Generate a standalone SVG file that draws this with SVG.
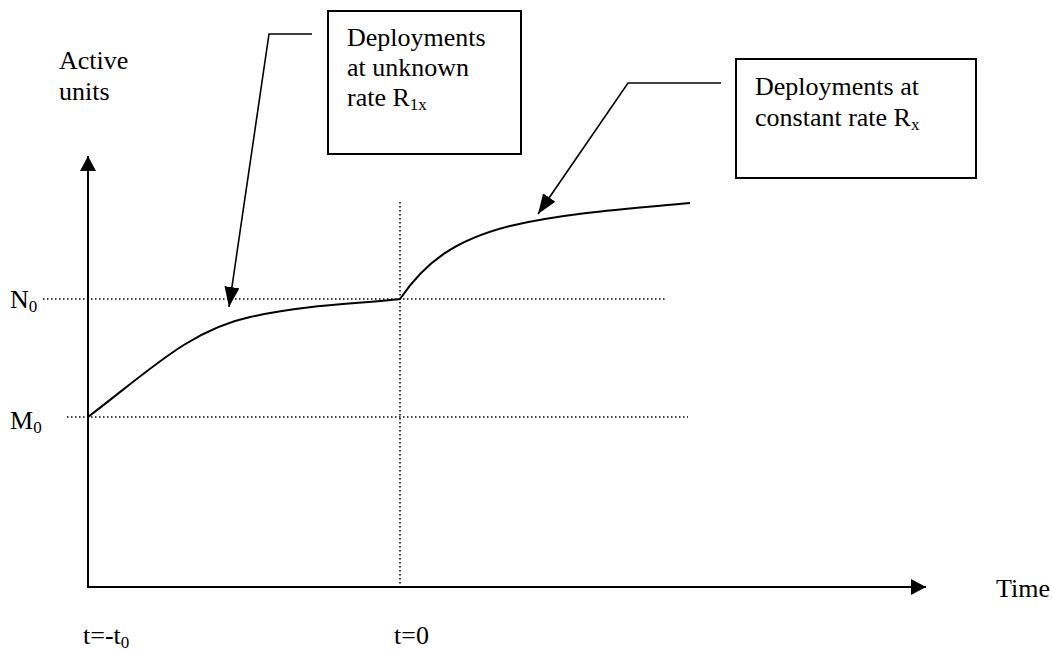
<svg xmlns="http://www.w3.org/2000/svg" width="1052" height="653" viewBox="0 0 1052 653">
<style>
  text { font-family: "Liberation Serif", "Times New Roman", serif; font-size: 26px; fill: #000; }
  .sub { font-size: 17px; }
  .axis { stroke: #000; stroke-width: 2; fill: none; }
  .dot { stroke: #000; stroke-width: 1.5; stroke-dasharray: 1.5 2.5; fill: none; }
  .curve { stroke: #000; stroke-width: 2; fill: none; }
  .box { stroke: #000; stroke-width: 2; fill: #fff; }
  .lead { stroke: #000; stroke-width: 1.6; fill: none; }
</style>
<defs>
  <marker id="axhead" markerUnits="userSpaceOnUse" markerWidth="16" markerHeight="16" refX="15" refY="8" orient="auto">
    <path d="M0,0 L15,8 L0,16 Z" fill="#000"/>
  </marker>
  <marker id="callhead" markerUnits="userSpaceOnUse" markerWidth="22" markerHeight="16" refX="20" refY="7.5" orient="auto">
    <path d="M0,0 L20,7.5 L0,15 Z" fill="#000"/>
  </marker>
</defs>
<rect width="1052" height="653" fill="#fff"/>

<g id="guides">
  <line class="dot" x1="43" y1="299" x2="665" y2="299"/>
  <line class="dot" x1="67" y1="417" x2="688" y2="417"/>
  <line class="dot" x1="400" y1="202" x2="400" y2="586"/>
</g>

<g id="axes">
  <path class="axis" d="M88,587 L88,156" marker-end="url(#axhead)"/>
  <path class="axis" d="M87,587 L926,587" marker-end="url(#axhead)"/>
</g>

<g id="curve">
  <path class="curve" d="M88,417 C150,370 190,330 250,317 S360,304 400,299 C425,262 455,240 510,226 C570,212 640,208 690,203"/>
</g>

<g id="connectors">
  <path class="lead" d="M312,34 L269,34 L229,307" marker-end="url(#callhead)"/>
  <path class="lead" d="M721,83 L628,83 L538,214" marker-end="url(#callhead)"/>
</g>

<g id="box-unknown">
  <rect class="box" x="328" y="11" width="193" height="143"/>
  <text x="347" y="46">Deployments</text>
  <text x="347" y="76">at unknown</text>
  <text x="347" y="106">rate R<tspan class="sub" dy="4">1x</tspan></text>
</g>

<g id="box-constant">
  <rect class="box" x="736" y="59" width="240" height="119"/>
  <text x="755" y="95">Deployments at</text>
  <text x="755" y="126">constant rate R<tspan class="sub" dy="4">x</tspan></text>
</g>

<g id="labels">
  <text x="59" y="69">Active</text>
  <text x="59" y="100">units</text>
  <text x="10" y="308">N<tspan class="sub" dy="4">0</tspan></text>
  <text x="10" y="429">M<tspan class="sub" dy="4">0</tspan></text>
  <text x="996" y="597">Time</text>
  <text x="83" y="644">t=-t<tspan class="sub" dy="4">0</tspan></text>
  <text x="394" y="644">t=0</text>
</g>
</svg>
